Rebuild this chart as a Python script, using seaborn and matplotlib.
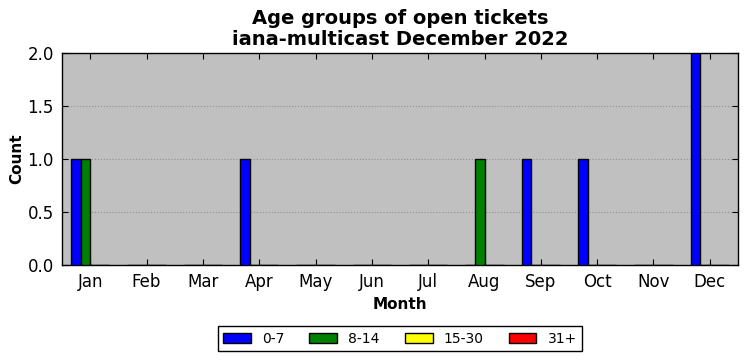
import matplotlib
matplotlib.use("Agg")
import matplotlib.pyplot as plt
import pandas as pd
import seaborn as sns

months = ["Jan", "Feb", "Mar", "Apr", "May", "Jun",
          "Jul", "Aug", "Sep", "Oct", "Nov", "Dec"]
age_groups = ["0-7", "8-14", "15-30", "31+"]
counts_0_7 = [1, 0, 0, 1, 0, 0, 0, 0, 1, 1, 0, 2]
counts_8_14 = [1, 0, 0, 0, 0, 0, 0, 1, 0, 0, 0, 0]
counts_15_30 = [0, 0, 0, 0, 0, 0, 0, 0, 0, 0, 0, 0]
counts_31 = [0, 0, 0, 0, 0, 0, 0, 0, 0, 0, 0, 0]
colors = ["blue", "green", "yellow", "red"]

# long-format table for seaborn
rows = []
for group, vals in zip(age_groups, [counts_0_7, counts_8_14, counts_15_30, counts_31]):
    for m, v in zip(months, vals):
        rows.append({"Month": m, "Age": group, "Count": v})
df = pd.DataFrame(rows)

sns.set_style("ticks", {
    "axes.facecolor": "#c0c0c0",
    "axes.edgecolor": "black",
    "axes.labelcolor": "black",
    "text.color": "black",
    "xtick.color": "black",
    "ytick.color": "black",
    "xtick.direction": "in",
    "ytick.direction": "in",
    "xtick.top": True,
    "ytick.right": True,
})
plt.rcParams["font.family"] = ["DejaVu Sans"]

fig = plt.figure(figsize=(7.47, 3.61), dpi=100)
ax = fig.add_axes([62 / 747, 1 - 265 / 361, 676 / 747, 212 / 361])

sns.barplot(data=df, x="Month", y="Count", hue="Age", order=months,
            hue_order=age_groups, palette=colors, width=0.68,
            edgecolor="black", linewidth=1, saturation=1, ax=ax, zorder=3)

ax.set_xlim(-0.5, 11.5)
ax.set_ylim(0, 2)
ax.set_yticks([0, 0.5, 1.0, 1.5, 2.0])
ax.set_yticklabels(["0.0", "0.5", "1.0", "1.5", "2.0"])
ax.yaxis.grid(True, linestyle=":", color="#909090", linewidth=0.8, zorder=0)
ax.set_axisbelow(True)
ax.tick_params(axis="both", labelsize=12, length=4, width=0.8, pad=6,
               colors="black")
for s in ax.spines.values():
    s.set_linewidth(1)

ax.set_xlabel("Month", fontsize=11, fontweight="bold")
ax.set_ylabel("Count", fontsize=11, fontweight="bold", labelpad=2)
ax.set_title("Age groups of open tickets\niana-multicast December 2022",
             fontsize=14, fontweight="bold", linespacing=1.1)

leg = ax.legend(loc="upper center", bbox_to_anchor=(0.5, -0.255), ncol=4,
                fontsize=10, frameon=True, fancybox=False, handlelength=2.0,
                handleheight=0.7, columnspacing=1.8, borderpad=0.4,
                facecolor="white", framealpha=1)
leg.get_frame().set_edgecolor("black")
leg.get_frame().set_linewidth(1)

fig.savefig("out.png", dpi=100)
